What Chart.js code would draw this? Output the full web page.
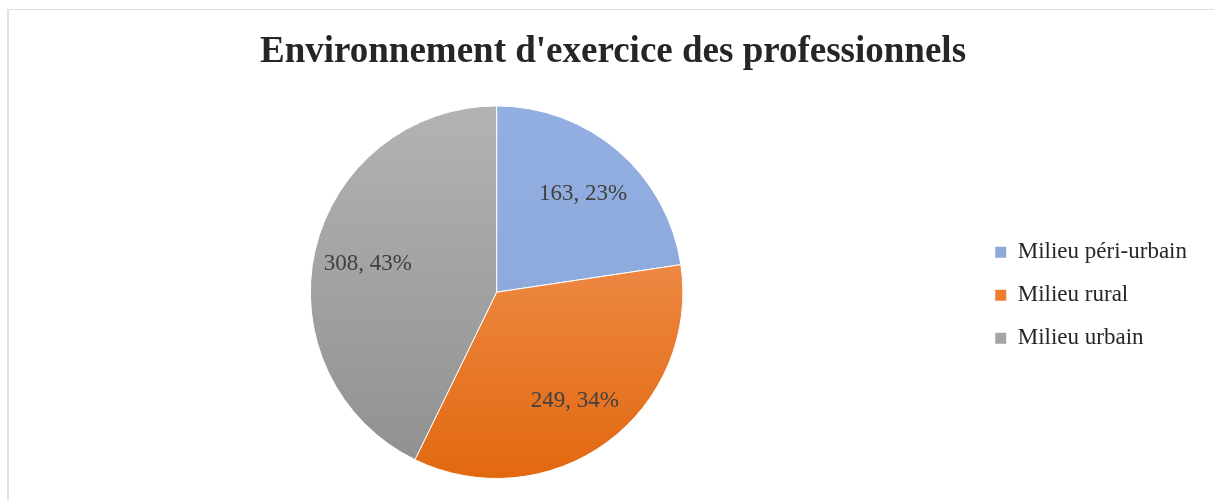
<!DOCTYPE html>
<html>
<head>
<meta charset="utf-8">
<script src="https://cdn.jsdelivr.net/npm/chart.js@4.4.1/dist/chart.umd.min.js"></script>
<style>
    html, body { margin: 0; padding: 0; background: #fff; }
    #wrap { position: relative; width: 1214px; height: 501px; overflow: hidden; }
    #frame { position: absolute; left: 7px; top: 9px; width: 1300px; height: 600px;
             border-left: 2px solid #dde1e8; border-top: 1px solid #dde1e8; }
    #chart { position: absolute; left: 0; top: 0; }
</style>
</head>
<body>
<div id="wrap">
    <div id="frame"></div>
    <canvas id="chart" width="1214" height="501"></canvas>
</div>
<script>
const titleText = "Environnement d'exercice des professionnels";
const categories = ["Milieu péri-urbain", "Milieu rural", "Milieu urbain"];
const counts = [163, 249, 308];
const percents = [23, 34, 43];

// top / bottom colours of each slice gradient
const topColors = ["#93aee0", "#f59f68", "#b3b3b3"];
const bottomColors = ["#89a5d8", "#e2680f", "#8f8f8f"];
const legendColors = ["#8eaadb", "#ee7d31", "#a5a5a5"];

const serif = "'Liberation Serif', 'Times New Roman', serif";

function sliceFill(ctx) {
    const chart = ctx.chart;
    const area = chart.chartArea;
    const i = ctx.dataIndex;
    if (!area) return legendColors[i];
    const g = chart.ctx.createLinearGradient(0, area.top, 0, area.bottom);
    g.addColorStop(0, topColors[i]);
    g.addColorStop(1, bottomColors[i]);
    return g;
}

const sliceLabels = {
    id: "sliceLabels",
    afterDatasetsDraw(chart) {
        const ctx = chart.ctx;
        const meta = chart.getDatasetMeta(0);
        ctx.save();
        ctx.font = "23px " + serif;
        ctx.fillStyle = "#404040";
        ctx.textAlign = "center";
        ctx.textBaseline = "middle";
        meta.data.forEach((arc, i) => {
            const p = arc.getProps(["x", "y", "startAngle", "endAngle", "outerRadius"], true);
            const mid = (p.startAngle + p.endAngle) / 2;
            const r = p.outerRadius * 0.71;
            ctx.fillText(counts[i] + ", " + percents[i] + "%", p.x + Math.cos(mid) * r, p.y + Math.sin(mid) * r + 2);
        });
        ctx.restore();
    }
};

// leave a bit more room on the right of the legend, and nudge it down
const legendRoom = {
    id: "legendRoom",
    afterInit(chart) {
        const legend = chart.legend;
        if (!legend) return;
        const fit = legend.fit;
        legend.fit = function () {
            fit.call(this);
            this.width += 11;
        };
    },
    afterLayout(chart) {
        const legend = chart.legend;
        if (!legend) return;
        legend.top += 3;
        legend.bottom += 3;
    }
};

new Chart(document.getElementById("chart"), {
    type: "pie",
    data: {
        labels: categories,
        datasets: [{
            data: counts,
            backgroundColor: sliceFill,
            borderColor: "#ffffff",
            borderWidth: 1
        }]
    },
    options: {
        responsive: false,
        animation: false,
        layout: { padding: { left: 18, right: 6, bottom: 22, top: 0 } },
        plugins: {
            title: {
                display: true,
                text: titleText,
                color: "#262626",
                font: { family: serif, size: 37, weight: "bold" },
                padding: { top: 30, bottom: 31 }
            },
            legend: {
                position: "right",
                fullSize: false,
                labels: {
                    boxWidth: 11,
                    boxHeight: 11,
                    padding: 20,
                    color: "#262626",
                    font: { family: serif, size: 23 },
                    generateLabels(chart) {
                        return categories.map((c, i) => ({
                            text: c,
                            fillStyle: legendColors[i],
                            strokeStyle: legendColors[i],
                            lineWidth: 0,
                            fontColor: "#262626",
                            index: i,
                            hidden: false
                        }));
                    }
                }
            },
            tooltip: { enabled: false }
        }
    },
    plugins: [sliceLabels, legendRoom]
});
</script>
</body>
</html>
